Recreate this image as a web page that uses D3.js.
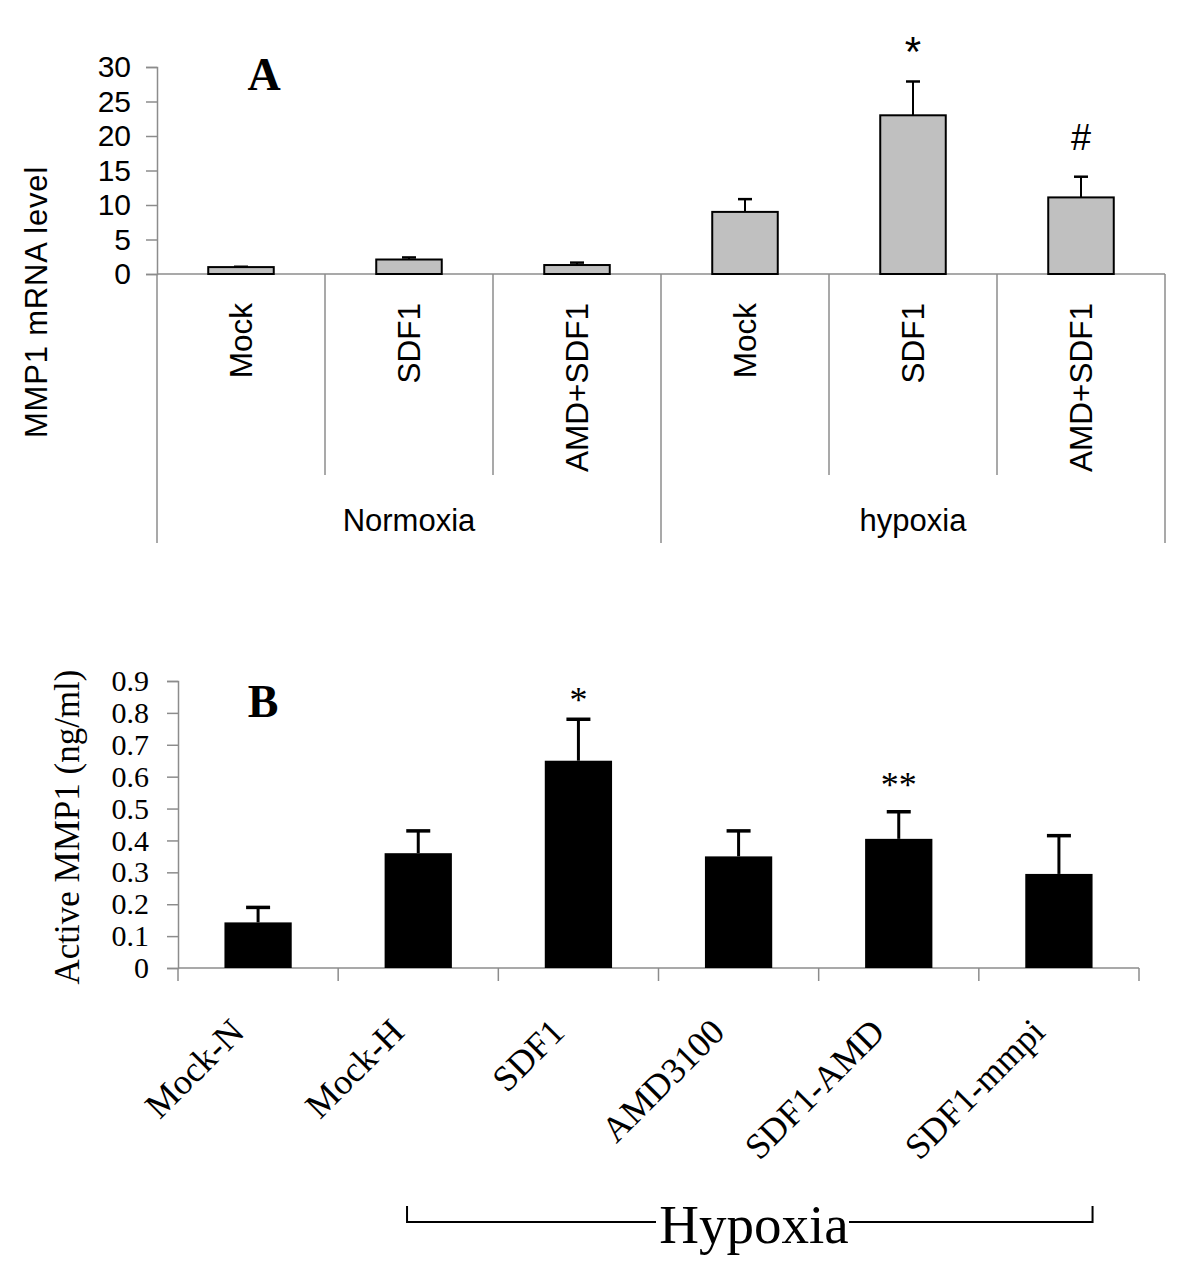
<!DOCTYPE html>
<html>
<head>
<meta charset="utf-8">
<script src="https://cdn.jsdelivr.net/npm/d3@7"></script>
<style>
  html, body { margin: 0; padding: 0; background: #fff; }
  svg { display: block; }
</style>
</head>
<body>
<svg id="chart" width="1200" height="1286"></svg>
<script>
// ---------- Panel A data ----------
const catsA = ["Mock", "SDF1", "AMD+SDF1", "Mock", "SDF1", "AMD+SDF1"];
const groupsA = ["Normoxia", "hypoxia"];
const valuesA = [1.0, 2.1, 1.3, 9.0, 23.0, 11.1];
const errTopA = [1.05, 2.4, 1.65, 10.85, 27.9, 14.1];
const marksA = ["", "", "", "", "*", "#"];
const ticksA = [0, 5, 10, 15, 20, 25, 30];

// ---------- Panel B data ----------
const catsB = ["Mock-N", "Mock-H", "SDF1", "AMD3100", "SDF1-AMD", "SDF1-mmpi"];
const valuesB = [0.143, 0.36, 0.65, 0.35, 0.405, 0.295];
const errTopB = [0.19, 0.43, 0.78, 0.43, 0.49, 0.415];
const marksB = ["", "", "*", "", "**", ""];
const ticksB = [0, 0.1, 0.2, 0.3, 0.4, 0.5, 0.6, 0.7, 0.8, 0.9];

const svg = d3.select("#chart");
const AXIS_GREY = "#8c8c8c";
const SANS = "'Liberation Sans', Arial, sans-serif";
const SERIF = "'Liberation Serif', 'Times New Roman', serif";

// =============== PANEL A ===============
const gA = svg.append("g");
const idxA = d3.range(catsA.length);
const xA = d3.scaleBand().domain(idxA).range([157, 1165]).paddingInner(0).paddingOuter(0);
const yA = d3.scaleLinear().domain([0, 30]).range([274, 67]);
const bwA = xA.step() * 0.39;

// y axis
const axA = gA.append("g").attr("transform", "translate(157,0)")
  .call(d3.axisLeft(yA).tickValues(ticksA).tickSize(11).tickPadding(15).tickFormat(d3.format("d")));
axA.select(".domain").attr("stroke", AXIS_GREY).attr("stroke-width", 1.5);
axA.selectAll(".tick line").attr("stroke", AXIS_GREY).attr("stroke-width", 1.5);
axA.selectAll(".tick text").attr("font-family", SANS).attr("font-size", 30).attr("fill", "#000");

// baseline + category separators
gA.append("line").attr("x1", 157).attr("x2", 1165).attr("y1", yA(0)).attr("y2", yA(0))
  .attr("stroke", AXIS_GREY).attr("stroke-width", 1.5);
const sepA = d3.range(catsA.length + 1);
gA.selectAll(".sepA").data(sepA).join("line")
  .attr("x1", i => i < catsA.length ? xA(i) : xA(catsA.length - 1) + xA.step())
  .attr("x2", i => i < catsA.length ? xA(i) : xA(catsA.length - 1) + xA.step())
  .attr("y1", yA(0))
  .attr("y2", i => (i % 3 === 0) ? 543 : 475)
  .attr("stroke", AXIS_GREY).attr("stroke-width", 1.5);

// bars
gA.selectAll(".barA").data(valuesA).join("rect")
  .attr("x", (d, i) => xA(i) + xA.step() / 2 - bwA / 2)
  .attr("width", bwA)
  .attr("y", d => yA(d))
  .attr("height", d => yA(0) - yA(d))
  .attr("fill", "#c0c0c0").attr("stroke", "#000").attr("stroke-width", 2);

// error bars
gA.selectAll(".errA").data(errTopA).join("line")
  .attr("x1", (d, i) => xA(i) + xA.step() / 2).attr("x2", (d, i) => xA(i) + xA.step() / 2)
  .attr("y1", (d, i) => yA(valuesA[i])).attr("y2", d => yA(d))
  .attr("stroke", "#000").attr("stroke-width", 2);
gA.selectAll(".capA").data(errTopA).join("line")
  .attr("x1", (d, i) => xA(i) + xA.step() / 2 - 7).attr("x2", (d, i) => xA(i) + xA.step() / 2 + 7)
  .attr("y1", d => yA(d)).attr("y2", d => yA(d))
  .attr("stroke", "#000").attr("stroke-width", 2.5);

// significance marks
gA.selectAll(".markA").data(marksA).join("text")
  .attr("x", (d, i) => xA(i) + xA.step() / 2)
  .attr("y", (d, i) => d === "*" ? 66 : 150)
  .attr("text-anchor", "middle")
  .attr("font-family", SANS)
  .attr("font-size", d => d === "*" ? 42 : 36)
  .text(d => d);

// category labels (rotated)
gA.selectAll(".catA").data(catsA).join("text")
  .attr("transform", (d, i) => `translate(${xA(i) + xA.step() / 2},303) rotate(-90)`)
  .attr("text-anchor", "end")
  .attr("dy", "0.36em")
  .attr("font-family", SANS).attr("font-size", 31.5)
  .text(d => d);

// group labels
gA.selectAll(".grpA").data(groupsA).join("text")
  .attr("x", (d, i) => (xA(i * 3) + xA(i * 3) + 3 * xA.step()) / 2)
  .attr("y", 531)
  .attr("text-anchor", "middle")
  .attr("font-family", SANS).attr("font-size", 31)
  .text(d => d);

// axis title
gA.append("text")
  .attr("transform", "translate(36,302) rotate(-90)")
  .attr("text-anchor", "middle").attr("dy", "0.36em")
  .attr("font-family", SANS).attr("font-size", 31).attr("letter-spacing", 0.8)
  .text("MMP1 mRNA level");

// panel letter
gA.append("text").attr("x", 264).attr("y", 90).attr("text-anchor", "middle")
  .attr("font-family", SERIF).attr("font-weight", "bold").attr("font-size", 46)
  .text("A");

// =============== PANEL B ===============
const gB = svg.append("g");
const idxB = d3.range(catsB.length);
const xB = d3.scaleBand().domain(idxB).range([178, 1139]).paddingInner(0).paddingOuter(0);
const yB = d3.scaleLinear().domain([0, 0.9]).range([968, 681]);
const bwB = xB.step() * 0.42;

const axB = gB.append("g").attr("transform", "translate(178,0)")
  .call(d3.axisLeft(yB).tickValues(ticksB).tickSize(11).tickPadding(18)
    .tickFormat(d => d === 0 ? "0" : d3.format(".1f")(d)));
axB.select(".domain").attr("stroke", AXIS_GREY).attr("stroke-width", 1.5);
axB.selectAll(".tick line").attr("stroke", AXIS_GREY).attr("stroke-width", 1.5);
axB.selectAll(".tick text").attr("font-family", SERIF).attr("font-size", 30).attr("fill", "#000");

// bottom axis with boundary ticks
gB.append("line").attr("x1", 178).attr("x2", 1139).attr("y1", yB(0)).attr("y2", yB(0))
  .attr("stroke", AXIS_GREY).attr("stroke-width", 1.5);
gB.selectAll(".sepB").data(d3.range(catsB.length + 1)).join("line")
  .attr("x1", i => 178 + i * xB.step()).attr("x2", i => 178 + i * xB.step())
  .attr("y1", yB(0)).attr("y2", yB(0) + 13)
  .attr("stroke", AXIS_GREY).attr("stroke-width", 1.5);

// bars
gB.selectAll(".barB").data(valuesB).join("rect")
  .attr("x", (d, i) => xB(i) + xB.step() / 2 - bwB / 2)
  .attr("width", bwB)
  .attr("y", d => yB(d))
  .attr("height", d => yB(0) - yB(d))
  .attr("fill", "#000");

gB.selectAll(".errB").data(errTopB).join("line")
  .attr("x1", (d, i) => xB(i) + xB.step() / 2).attr("x2", (d, i) => xB(i) + xB.step() / 2)
  .attr("y1", (d, i) => yB(valuesB[i])).attr("y2", d => yB(d))
  .attr("stroke", "#000").attr("stroke-width", 3);
gB.selectAll(".capB").data(errTopB).join("line")
  .attr("x1", (d, i) => xB(i) + xB.step() / 2 - 12).attr("x2", (d, i) => xB(i) + xB.step() / 2 + 12)
  .attr("y1", d => yB(d)).attr("y2", d => yB(d))
  .attr("stroke", "#000").attr("stroke-width", 3.5);

gB.selectAll(".markB").data(marksB).join("text")
  .attr("x", (d, i) => xB(i) + xB.step() / 2)
  .attr("y", (d, i) => i === 2 ? 712 : 797)
  .attr("text-anchor", "middle")
  .attr("font-family", SERIF).attr("font-size", 36)
  .text(d => d);

// rotated category labels
gB.selectAll(".catB").data(catsB).join("text")
  .attr("transform", (d, i) => `translate(${xB(i) + xB.step() / 2 - 12},1034) rotate(-45)`)
  .attr("text-anchor", "end")
  .attr("font-family", SERIF).attr("font-size", 36)
  .text(d => d);

// axis title
gB.append("text")
  .attr("transform", "translate(66,827) rotate(-90)")
  .attr("text-anchor", "middle").attr("dy", "0.36em")
  .attr("font-family", SERIF).attr("font-size", 35)
  .text("Active MMP1 (ng/ml)");

// panel letter
gB.append("text").attr("x", 263).attr("y", 717).attr("text-anchor", "middle")
  .attr("font-family", SERIF).attr("font-weight", "bold").attr("font-size", 46)
  .text("B");

// Hypoxia bracket
const brL = xB(1) + xB.step() * 0.43, brR = xB(5) + xB.step() * 0.71;
const hypoX = 754;
gB.append("path")
  .attr("d", `M${brL},1206 V1222 H656 M849,1222 H${brR} V1206`)
  .attr("fill", "none").attr("stroke", "#000").attr("stroke-width", 2);
gB.append("text").attr("x", hypoX).attr("y", 1243).attr("text-anchor", "middle")
  .attr("font-family", SERIF).attr("font-size", 55)
  .text("Hypoxia");
</script>
</body>
</html>
